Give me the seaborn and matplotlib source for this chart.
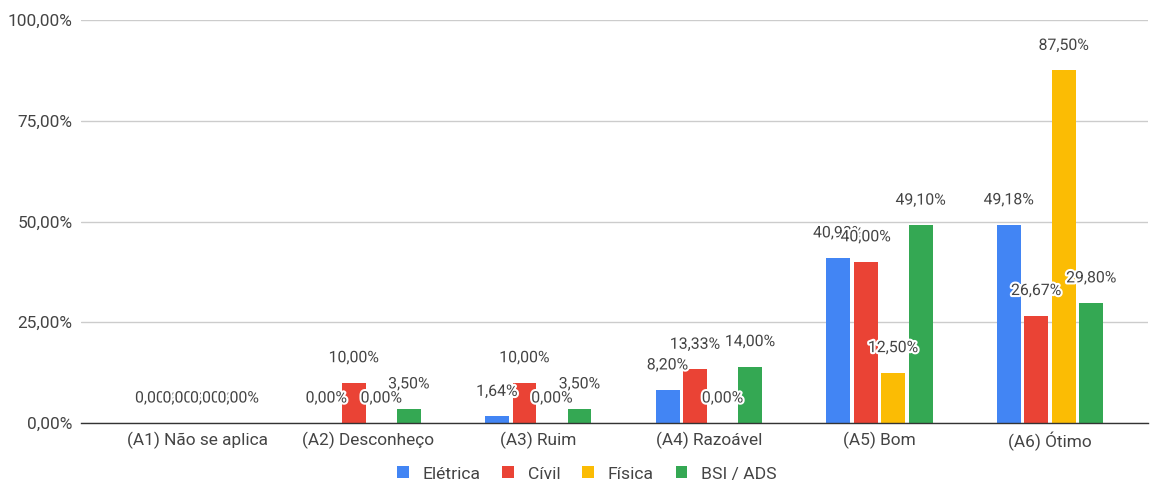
import matplotlib
matplotlib.use("Agg")
import matplotlib.pyplot as plt
import matplotlib.patheffects as pe
from matplotlib.patches import Patch
from matplotlib.ticker import FuncFormatter
import pandas as pd
import seaborn as sns

categories = ["(A1) Não se aplica", "(A2) Desconheço", "(A3) Ruim",
              "(A4) Razoável", "(A5) Bom", "(A6) Ótimo"]
series_names = ["Elétrica", "Cívil", "Física", "BSI / ADS"]
eletrica = [0.00, 0.00, 1.64, 8.20, 40.98, 49.18]
civil = [0.00, 10.00, 10.00, 13.33, 40.00, 26.67]
fisica = [0.00, 0.00, 0.00, 0.00, 12.50, 87.50]
bsi_ads = [0.00, 3.50, 3.50, 14.00, 49.10, 29.80]
y_ticks = [0, 25, 50, 75, 100]

colors = ["#4285F4", "#EA4335", "#FBBC04", "#34A853"]
text_color = "#444444"

rows = []
for name, vals in zip(series_names, [eletrica, civil, fisica, bsi_ads]):
    for cat, v in zip(categories, vals):
        rows.append({"categoria": cat, "valor": v, "curso": name})
df = pd.DataFrame(rows)

sns.set_theme(style="white")
plt.rcParams["font.family"] = ["Roboto", "DejaVu Sans"]

fig = plt.figure(figsize=(11.54, 4.83), dpi=100)
ax = fig.add_axes([81 / 1154, 60 / 483, (1148 - 81) / 1154, (423 - 20) / 483])

sns.barplot(data=df, x="categoria", y="valor", hue="curso",
            order=categories, hue_order=series_names,
            palette=colors, saturation=1, width=0.645, gap=0.13,
            legend=False, ax=ax)

def pct(v):
    return f"{v:.2f}%".replace(".", ",")

z = 5
for container, vals in zip(ax.containers, [eletrica, civil, fisica, bsi_ads]):
    for bar, v in zip(container, vals):
        bar.set_edgecolor("none")
        xc = bar.get_x() + bar.get_width() / 2
        ax.annotate(pct(v), xy=(xc, v), xytext=(0, 25),
                    textcoords="offset pixels", ha="center", va="center",
                    fontsize=11.4, color=text_color, zorder=z,
                    path_effects=[pe.withStroke(linewidth=3, foreground="white")])
        z += 1

ax.set_ylim(0, 100)
ax.set_xlim(-0.68, 5.574)
ax.set_yticks(y_ticks)
ax.yaxis.set_major_formatter(FuncFormatter(lambda v, _: pct(v)))
ax.set_xlabel("")
ax.set_ylabel("")
ax.grid(axis="y", color="#cccccc", linewidth=1)
ax.set_axisbelow(True)
for s in ["top", "right", "left"]:
    ax.spines[s].set_visible(False)
ax.spines["bottom"].set_color("#333333")
ax.spines["bottom"].set_linewidth(1)
ax.spines["bottom"].set_zorder(4)
ax.tick_params(axis="both", length=0, labelsize=12.4, labelcolor=text_color)
ax.tick_params(axis="y", pad=6)
ax.tick_params(axis="x", pad=6)

handles = [Patch(facecolor=c, edgecolor="none") for c in colors]
fig.legend(handles, series_names, loc="center", bbox_to_anchor=(587 / 1154, 1 - 474 / 483),
           ncol=4, frameon=False, fontsize=12.6, labelcolor=text_color,
           handlelength=0.66, handleheight=0.66, handletextpad=0.8, columnspacing=1.25)

fig.savefig("out.png", dpi=100, facecolor="white")
